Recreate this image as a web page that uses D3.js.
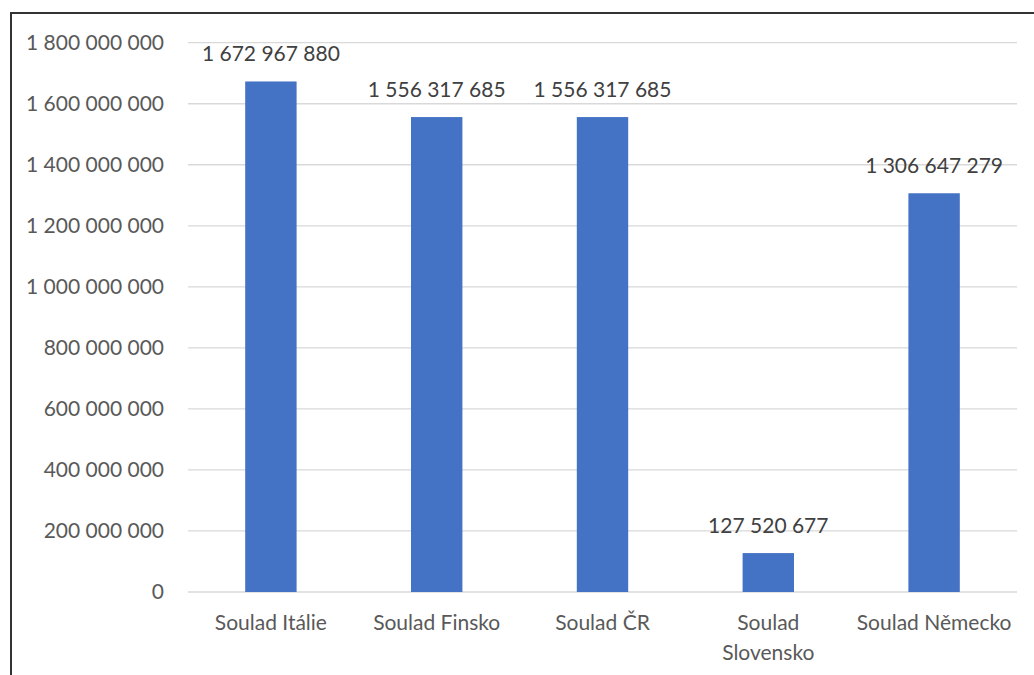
<!DOCTYPE html>
<html>
<head>
<meta charset="utf-8">
<script src="https://cdn.jsdelivr.net/npm/d3@7"></script>
<style>
  body { margin: 0; background: #fff; }
  svg { display: block; font-family: Lato, "Noto Sans", sans-serif; }
</style>
</head>
<body>
<svg id="chart" width="1034" height="675"></svg>
<script>
// values
const categories = ["Soulad Itálie", "Soulad Finsko", "Soulad ČR", "Soulad Slovensko", "Soulad Německo"];
const values = [1672967880, 1556317685, 1556317685, 127520677, 1306647279];
const yTicks = [0, 200000000, 400000000, 600000000, 800000000, 1000000000, 1200000000, 1400000000, 1600000000, 1800000000];

const svg = d3.select("#chart");
const margin = { left: 188, right: 17, top: 42.7, bottom: 83 };
const width = 1034, height = 675;
const fontSize = "21px";

// space as thousands separator
const fmt = v => d3.format(",")(v).replace(/,/g, " ");

// chart frame
svg.append("rect")
    .attr("x", 11).attr("y", 13)
    .attr("width", 1040).attr("height", 700)
    .attr("fill", "none")
    .attr("stroke", "#333")
    .attr("stroke-width", 2);

const x = d3.scaleBand()
    .domain(categories)
    .range([margin.left, width - margin.right])
    .paddingInner(0.69)
    .paddingOuter(0.345);

const y = d3.scaleLinear()
    .domain([0, 1800000000])
    .range([592, margin.top]);

// gridlines
svg.append("g")
    .selectAll("line")
    .data(yTicks)
    .enter()
    .append("line")
    .attr("x1", margin.left)
    .attr("x2", width - margin.right)
    .attr("y1", d => y(d))
    .attr("y2", d => y(d))
    .attr("stroke", "#d9d9d9")
    .attr("stroke-width", 1.3);

// y axis labels
const yAxis = svg.append("g")
    .attr("transform", "translate(164,0)")
    .call(d3.axisLeft(y).tickValues(yTicks).tickFormat(fmt).tickSize(0).tickPadding(0));
yAxis.select(".domain").remove();
yAxis.selectAll("text")
    .attr("fill", "#595959")
    .style("font-size", fontSize)
    .style("font-family", "Lato, 'Noto Sans', sans-serif");

// bars
svg.append("g")
    .selectAll("rect")
    .data(values)
    .enter()
    .append("rect")
    .attr("x", (d, i) => x(categories[i]))
    .attr("y", d => y(d))
    .attr("width", x.bandwidth())
    .attr("height", d => y(0) - y(d))
    .attr("fill", "#4472c4");

// value labels
svg.append("g")
    .selectAll("text")
    .data(values)
    .enter()
    .append("text")
    .attr("x", (d, i) => x(categories[i]) + x.bandwidth() / 2)
    .attr("y", d => y(d) - 20)
    .attr("text-anchor", "middle")
    .attr("fill", "#404040")
    .style("font-size", fontSize)
    .text(fmt);

// category labels, wrap the ones wider than a band
const catWidth = x.step();
const catLabels = svg.append("g")
    .selectAll("text")
    .data(categories)
    .enter()
    .append("text")
    .attr("x", d => x(d) + x.bandwidth() / 2)
    .attr("y", 630)
    .attr("text-anchor", "middle")
    .attr("fill", "#595959")
    .style("font-size", fontSize);

catLabels.each(function (d) {
    const t = d3.select(this);
    t.text(d);
    if (this.getComputedTextLength() > catWidth - 8) {
        t.text(null);
        d.split(" ").forEach((w, k) => {
            t.append("tspan")
                .attr("x", t.attr("x"))
                .attr("dy", k === 0 ? 0 : 30)
                .text(w);
        });
    }
});
</script>
</body>
</html>
